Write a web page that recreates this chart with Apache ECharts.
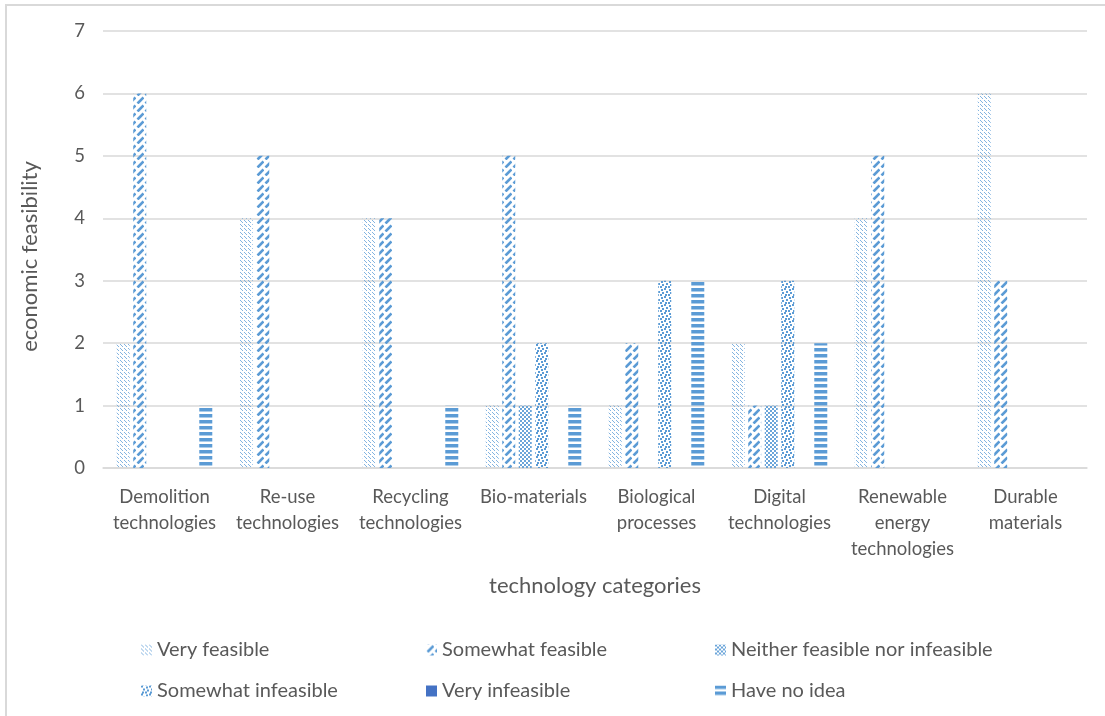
<!DOCTYPE html>
<html>
<head>
<meta charset="utf-8">
<script src="https://cdn.jsdelivr.net/npm/echarts@6/dist/echarts.min.js"></script>
<style>
html,body{margin:0;padding:0;background:#fff;}
#chart{width:1105px;height:716px;}
</style>
</head>
<body>
<div id="chart"></div>
<script>
const categories = ["Demolition\ntechnologies","Re-use\ntechnologies","Recycling\ntechnologies","Bio-materials","Biological\nprocesses","Digital\ntechnologies","Renewable\nenergy\ntechnologies","Durable\nmaterials"];
const seriesNames = ["Very feasible","Somewhat feasible","Neither feasible nor infeasible","Somewhat infeasible","Very infeasible","Have no idea"];
const veryFeasible      = [2,4,4,1,1,2,4,6];
const somewhatFeasible  = [6,5,4,5,2,1,5,3];
const neitherFeasible   = [0,0,0,1,0,1,0,0];
const somewhatInfeasible= [0,0,0,2,3,3,0,0];
const veryInfeasible    = [0,0,0,0,0,0,0,0];
const haveNoIdea        = [1,0,1,1,3,2,0,0];
const yTicks = [0,1,2,3,4,5,6,7];

const BLUE = '#5B9BD5';
function mk(w,h,draw){const c=document.createElement('canvas');c.width=w;c.height=h;const g=c.getContext('2d');draw(g);return c;}
const patVF = mk(4,4,g=>{g.fillStyle='rgba(91,155,213,0.75)';g.fillRect(0,0,1,1);g.fillRect(1,1,1,1);g.fillRect(2,2,1,1);});
const patSF = mk(8,8,g=>{g.strokeStyle=BLUE;g.lineWidth=2.6;g.lineCap='butt';
  g.beginPath();g.moveTo(1.5,7.5);g.lineTo(7.5,1.5);g.stroke();});
const patN = mk(4,4,g=>{g.fillStyle='rgba(91,155,213,0.9)';g.fillRect(0,0,2,2);g.fillRect(2,2,2,2);});
const patSI = mk(8,8,g=>{g.fillStyle=BLUE;[[0,0],[5,1],[2,3],[6,4],[1,6],[4,6]].forEach(p=>g.fillRect(p[0],p[1],2,2));});
const patHN = mk(4,6,g=>{g.fillStyle=BLUE;g.fillRect(0,0,4,3.5);});
const fills = [
  {image:patVF,repeat:'repeat'},
  {image:patSF,repeat:'repeat'},
  {image:patN,repeat:'repeat'},
  {image:patSI,repeat:'repeat'},
  '#4472C4',
  {image:patHN,repeat:'repeat'}
];
const values = [veryFeasible,somewhatFeasible,neitherFeasible,somewhatInfeasible,veryInfeasible,haveNoIdea];

const FONT = 'Lato';
const TXT = '#595959';
const legendSpots = [[136,635],[421,635],[710,635],[136,676],[421,676],[710,676]];

const chart = echarts.init(document.getElementById('chart'));
chart.setOption({
  animation:false,
  backgroundColor:'#fff',
  graphic:[{type:'rect',shape:{x:6,y:5,width:1120,height:730},style:{fill:'none',stroke:'#d9d9d9',lineWidth:2},silent:true}],
  grid:{left:103,right:18,top:31,bottom:248,containLabel:false},
  legend: seriesNames.map((n,i)=>({
    data:[n], left:legendSpots[i][0], top:legendSpots[i][1],
    itemWidth:11,itemHeight:11,itemGap:8,icon:'rect',
    textStyle:{fontFamily:FONT,fontSize:20,color:TXT}
  })),
  xAxis:{
    type:'category',data:categories,
    name:'technology categories',nameLocation:'middle',nameGap:107,
    nameTextStyle:{fontFamily:FONT,fontSize:22,color:TXT},
    axisLine:{lineStyle:{color:'#d9d9d9',width:1.5}},
    axisTick:{show:false},
    axisLabel:{fontFamily:FONT,fontSize:18.5,color:TXT,lineHeight:26,margin:16,interval:0}
  },
  yAxis:{
    type:'value',min:0,max:7,interval:1,
    name:'economic feasibility',nameLocation:'middle',nameGap:62,
    nameTextStyle:{fontFamily:FONT,fontSize:22,color:TXT,padding:[0,14,0,0]},
    axisLine:{show:false},axisTick:{show:false},
    splitLine:{lineStyle:{color:'#d9d9d9',width:1.5}},
    axisLabel:{fontFamily:FONT,fontSize:18.5,color:TXT,margin:18,formatter:v=>yTicks.includes(v)?String(v):''}
  },
  series: seriesNames.map((n,i)=>({
    name:n,type:'bar',data:values[i],barWidth:13,barGap:'27%',
    itemStyle:{color:fills[i]}
  }))
});
</script>
</body>
</html>
